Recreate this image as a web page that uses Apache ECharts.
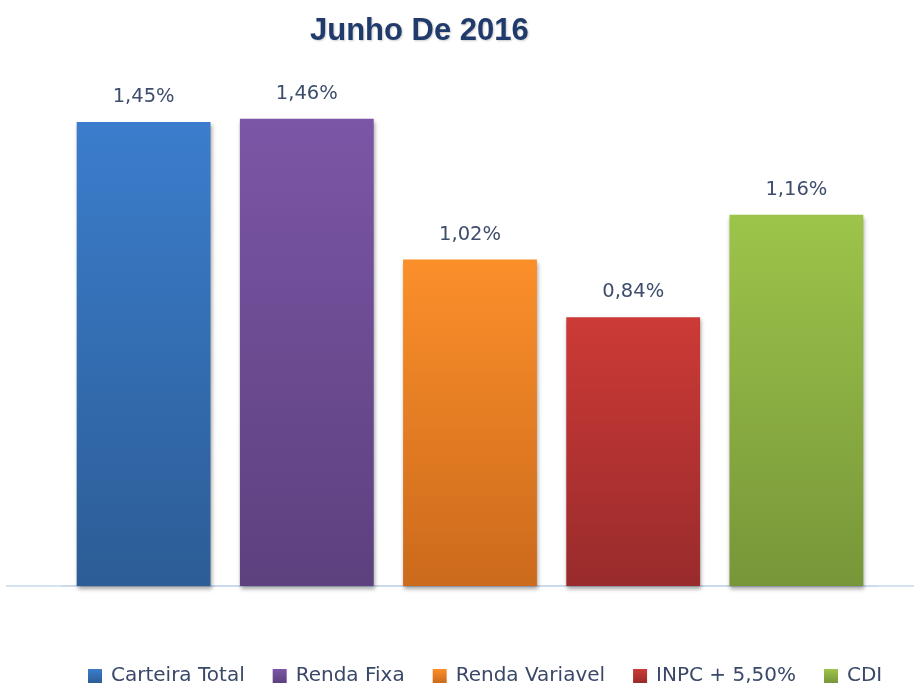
<!DOCTYPE html>
<html>
<head>
<meta charset="utf-8">
<script src="https://cdn.jsdelivr.net/npm/echarts@6/dist/echarts.min.js"></script>
<style>html,body{margin:0;padding:0;background:#fff}#c{width:914px;height:687px}</style>
</head>
<body>
<div id="c"></div>
<script>
const categories = ['Carteira Total', 'Renda Fixa', 'Renda Variavel', 'INPC + 5,50%', 'CDI'];
const values = [1.45, 1.46, 1.02, 0.84, 1.16];
const labels = ['1,45%', '1,46%', '1,02%', '0,84%', '1,16%'];
const topColors = ['#3b7dcc', '#7c56a6', '#fb8f2a', '#cc3a36', '#9dc44a'];
const bottomColors = ['#2c5d96', '#5d407e', '#cc6a1c', '#992b2c', '#779639'];

const chart = echarts.init(document.getElementById('c'), null, {renderer: 'canvas'});

const series = categories.map((name, i) => ({
  name: name,
  type: 'bar',
  barGap: '-100%',
  barWidth: '82%',
  data: categories.map((c, j) => (j === i ? values[i] : '-')),
  itemStyle: {
    color: new echarts.graphic.LinearGradient(0, 0, 0, 1, [
      {offset: 0, color: topColors[i]},
      {offset: 1, color: bottomColors[i]}
    ]),
    shadowColor: 'rgba(0,0,0,0.35)',
    shadowBlur: 4,
    shadowOffsetX: 1,
    shadowOffsetY: 3
  },
  label: {
    show: true,
    position: 'top',
    distance: 15,
    formatter: () => labels[i],
    fontFamily: 'DejaVu Sans',
    fontSize: 19.5,
    color: '#3d4d6b'
  }
}));

chart.setOption({
  animation: false,
  backgroundColor: '#ffffff',
  title: {
    text: 'Junho De 2016',
    left: 305,
    top: 11,
    textStyle: {
      fontFamily: 'Liberation Sans',
      fontWeight: 'bold',
      fontSize: 31,
      color: '#1f3a6b',
      textShadowColor: 'rgba(0,0,0,0.2)',
      textShadowBlur: 2,
      textShadowOffsetX: 1,
      textShadowOffsetY: 1
    }
  },
  legend: {
    data: categories,
    left: 88,
    top: 666,
    padding: 0,
    itemWidth: 14,
    itemHeight: 14,
    itemGap: 28,
    icon: 'rect',
    textStyle: {
      fontFamily: 'DejaVu Sans',
      fontSize: 20,
      color: '#3a4868',
      padding: [0, 0, 0, 4]
    }
  },
  grid: {left: 62, right: 36, top: 74, bottom: 101, containLabel: false},
  xAxis: {
    type: 'category',
    data: categories,
    axisLine: {show: true, lineStyle: {color: '#c9d8ec', width: 1.5}},
    axisTick: {show: false},
    axisLabel: {show: false}
  },
  yAxis: {
    type: 'value',
    min: 0,
    max: 1.6,
    show: false,
    splitLine: {show: false}
  },
  graphic: [{
    type: 'line',
    shape: {x1: 6, y1: 586, x2: 914, y2: 586},
    style: {stroke: '#c9d8ec', lineWidth: 1.5},
    z: 0
  }],
  series: series
});
</script>
</body>
</html>
